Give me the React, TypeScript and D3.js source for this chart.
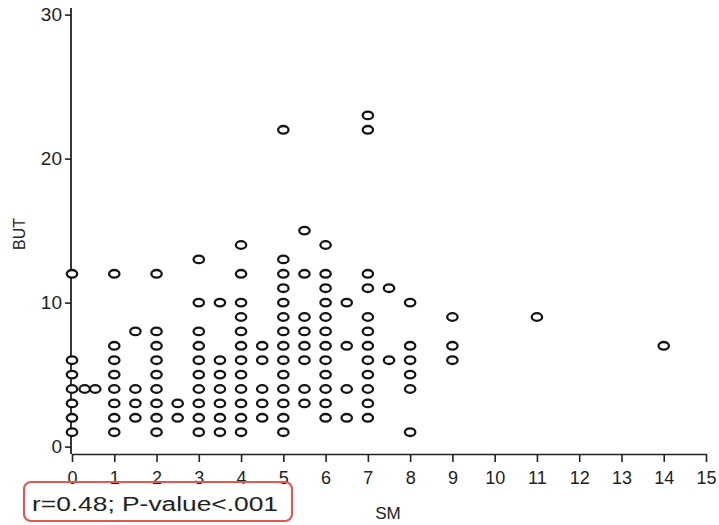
import React, { useEffect, useRef } from 'react';
import * as d3 from 'd3';

// SM positions of each vertical strip of points, and the BUT values found in it
const smColumns = [0, 0.3, 0.55, 1, 1.5, 2, 2.5, 3, 3.5, 4, 4.5, 5, 5.5, 6, 6.5, 7, 7.5, 8, 9, 11, 14];
const butByColumn = [
    [1, 2, 3, 4, 5, 6, 12],
    [4],
    [4],
    [1, 2, 3, 4, 5, 6, 7, 12],
    [2, 3, 4, 8],
    [1, 2, 3, 4, 5, 6, 7, 8, 12],
    [2, 3],
    [1, 2, 3, 4, 5, 6, 7, 8, 10, 13],
    [1, 2, 3, 4, 5, 6, 10],
    [1, 2, 3, 4, 5, 6, 7, 8, 9, 10, 12, 14],
    [2, 3, 4, 6, 7],
    [1, 2, 3, 4, 5, 6, 7, 8, 9, 10, 11, 12, 13, 22],
    [3, 4, 6, 7, 8, 9, 12, 15],
    [2, 3, 4, 5, 6, 7, 8, 9, 10, 11, 12, 14],
    [2, 4, 7, 10],
    [2, 3, 4, 5, 6, 7, 8, 9, 11, 12, 22, 23],
    [6, 11],
    [1, 4, 5, 6, 7, 10],
    [6, 7, 9],
    [9],
    [7],
];
const xTicks = d3.range(0, 16);
const yTicks = [0, 10, 20, 30];
const statText = 'r=0.48; P-value<.001';

const width = 719;
const height = 525;

const App = () => {
    const ref = useRef<SVGSVGElement>(null);

    useEffect(() => {
        const svg = d3.select(ref.current);
        svg.selectAll('*').remove();

        const x = d3.scaleLinear().domain([0, 15]).range([72, 706]);
        const y = d3.scaleLinear().domain([0, 30]).range([446.6, 14.6]);
        const axisY = 454;
        const font = '"Liberation Sans", Arial, sans-serif';

        const points = smColumns.flatMap((sm, i) => butByColumn[i].map(but => ({ sm, but })));

        // x axis
        const gx = svg.append('g')
            .attr('transform', `translate(0,${axisY})`)
            .call(d3.axisBottom(x).tickValues(xTicks).tickSize(8).tickSizeOuter(0).tickPadding(9));
        gx.selectAll('text').style('font-size', '18px').style('font-family', font).attr('fill', '#222');
        gx.selectAll('line, path').attr('stroke', '#222').attr('stroke-width', 1.6);

        // y axis
        const gy = svg.append('g')
            .attr('transform', 'translate(71,0)')
            .call(d3.axisLeft(y).tickValues(yTicks).tickSize(6).tickSizeOuter(0).tickPadding(3));
        gy.select('.domain').remove();
        gy.selectAll('text').style('font-size', '19px').style('font-family', font).attr('fill', '#222');
        gy.selectAll('line').attr('stroke', '#222').attr('stroke-width', 1.6);
        svg.append('line')
            .attr('x1', 71).attr('x2', 71)
            .attr('y1', 8).attr('y2', axisY)
            .attr('stroke', '#222').attr('stroke-width', 1.8);

        // points
        svg.append('g')
            .selectAll('ellipse')
            .data(points)
            .enter()
            .append('ellipse')
            .attr('cx', d => x(d.sm))
            .attr('cy', d => y(d.but))
            .attr('rx', 5.2)
            .attr('ry', 3.8)
            .attr('fill', 'white')
            .attr('stroke', '#151515')
            .attr('stroke-width', 2.3);

        // axis titles
        svg.append('text')
            .attr('transform', 'translate(25,234) rotate(-90)')
            .attr('text-anchor', 'middle')
            .style('font-size', '16px')
            .style('font-family', font)
            .attr('fill', '#222')
            .text('BUT');

        svg.append('text')
            .attr('x', 388)
            .attr('y', 519)
            .attr('text-anchor', 'middle')
            .style('font-size', '17px')
            .style('font-family', font)
            .attr('fill', '#222')
            .text('SM');

        // statistic box
        svg.append('rect')
            .attr('x', 24).attr('y', 482)
            .attr('width', 268).attr('height', 39)
            .attr('rx', 7)
            .attr('fill', 'none')
            .attr('stroke', '#e4574f')
            .attr('stroke-width', 2.2);

        svg.append('text')
            .attr('x', 32)
            .attr('y', 511)
            .attr('textLength', 246)
            .attr('lengthAdjust', 'spacingAndGlyphs')
            .style('font-size', '20px')
            .style('font-family', font)
            .attr('fill', '#222')
            .text(statText);
    }, []);

    return (
        <svg
            ref={ref}
            width={width}
            height={height}
            style={{ position: 'absolute', left: 0, top: 0, background: 'white' }}
        />
    );
};

export default App;
